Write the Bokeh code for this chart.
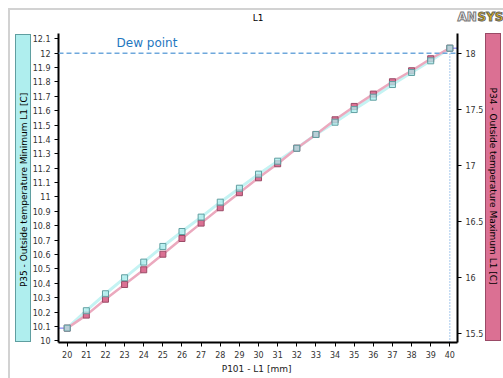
import math
from bokeh.plotting import figure
from bokeh.models import (Range1d, LinearAxis, FixedTicker, CustomJSTickFormatter,
                          Label, Span, ColumnDataSource, InlineStyleSheet)
from bokeh.embed import file_html
from bokeh.resources import INLINE

# ---- data ----
l1_mm = [20, 21, 22, 23, 24, 25, 26, 27, 28, 29, 30, 31, 32, 33, 34, 35, 36, 37, 38, 39, 40]
temp_min = [10.088, 10.209, 10.327, 10.438, 10.547, 10.656, 10.760, 10.860, 10.964, 11.061,
            11.159, 11.249, 11.339, 11.435, 11.520, 11.608, 11.694, 11.782, 11.866, 11.947, 12.035]
temp_max = [15.550, 15.666, 15.808, 15.939, 16.070, 16.209, 16.349, 16.486, 16.623, 16.757,
            16.890, 17.015, 17.154, 17.276, 17.407, 17.526, 17.636, 17.746, 17.844, 17.951, 18.045]
dew_point = 12.0
x_ticks = list(range(20, 41))
left_ticks = [10.0, 10.1, 10.2, 10.3, 10.4, 10.5, 10.6, 10.7, 10.8, 10.9, 11.0,
              11.1, 11.2, 11.3, 11.4, 11.5, 11.6, 11.7, 11.8, 11.9, 12.0, 12.1]
right_ticks = [15.5, 16.0, 16.5, 17.0, 17.5, 18.0]
title_text = "L1"
x_label = "P101 - L1  [mm]"
left_label = "P35 - Outside temperature Minimum L1  [C]"
right_label = "P34 - Outside temperature Maximum L1  [C]"
dew_text = "Dew point"

FONT = "DejaVu Sans"
CYAN = "#afeeee"
CYAN_EDGE = "#5f9ea0"
PINK = "#db7093"
PINK_EDGE = "#9a4a66"

p = figure(width=503, height=378, output_backend="svg", toolbar_location=None,
           x_range=Range1d(19.545, 40.40), y_range=Range1d(9.988, 12.137),
           min_border_left=58, min_border_right=46, min_border_top=33, min_border_bottom=36,
           x_axis_type=None, y_axis_type=None)
p.outline_line_color = None
p.xgrid.visible = False
p.ygrid.visible = False
p.background_fill_color = "white"
p.border_fill_color = None
p.extra_y_ranges = {"max": Range1d(15.422, 18.176)}

# decorative frame and the two coloured label panels (page chrome)
css = (
    ":host { isolation: isolate; background: white; }"
    ":host::before { content: ''; position: absolute; left: 0; top: 0; width: 100%; height: 100%;"
    " z-index: -1; pointer-events: none; background:"
    f" linear-gradient({CYAN},{CYAN}) 16px 35px / 14px 306px no-repeat,"
    f" linear-gradient({CYAN_EDGE},{CYAN_EDGE}) 15px 34px / 16px 308px no-repeat,"
    f" linear-gradient({PINK},{PINK}) 486px 34px / 14px 306px no-repeat,"
    f" linear-gradient({PINK_EDGE},{PINK_EDGE}) 485px 33px / 16px 308px no-repeat; }}"
    ":host::after { content: ''; position: absolute; left: 8px; top: 8px; right: 0; bottom: 0;"
    " border-left: 2px solid #d2d2d2; border-top: 2px solid #d2d2d2;"
    " pointer-events: none; z-index: 10; }"
)
p.stylesheets = [InlineStyleSheet(css=css)]

fmt = CustomJSTickFormatter(code="return String(Math.round(tick*10)/10);")

def style_axis(ax):
    ax.axis_line_color = "black"
    ax.axis_line_width = 2
    ax.major_tick_line_color = "black"
    ax.major_tick_out = 4
    ax.major_tick_in = 0
    ax.minor_tick_line_color = None
    ax.major_label_text_font = FONT
    ax.major_label_text_font_size = "8px"
    ax.major_label_text_color = "#333333"
    ax.major_label_standoff = 4
    ax.formatter = fmt

xax = LinearAxis(ticker=FixedTicker(ticks=x_ticks), axis_label=x_label)
style_axis(xax)
xax.axis_label_text_font = FONT
xax.axis_label_text_font_size = "9px"
xax.axis_label_text_font_style = "normal"
xax.axis_label_text_color = "#222222"
xax.axis_label_standoff = 3
p.add_layout(xax, "below")
lax = LinearAxis(ticker=FixedTicker(ticks=left_ticks))
style_axis(lax)
p.add_layout(lax, "left")
rax = LinearAxis(ticker=FixedTicker(ticks=right_ticks), y_range_name="max")
style_axis(rax)
p.add_layout(rax, "right")

# dew point reference lines
p.add_layout(Span(location=dew_point, dimension="width", line_color="#6fa8dc",
                  line_width=1.5, line_dash="5 3"))
p.segment(x0=[l1_mm[-1]], y0=[9.988], x1=[l1_mm[-1]], y1=[dew_point],
          line_color="#4a90d9", line_width=1, line_dash="1 2")
p.segment(x0=[19.545], y0=[temp_min[0]], x1=[l1_mm[0]], y1=[temp_min[0]],
          line_color="#6a6af0", line_width=1)
p.segment(x0=[l1_mm[-1]], y0=[temp_min[-1]], x1=[40.40], y1=[temp_min[-1]],
          line_color="#6a6af0", line_width=1)

src = ColumnDataSource(dict(x=l1_mm, tmin=temp_min, tmax=temp_max))
p.line("x", "tmin", source=src, line_color="#c4f3f3", line_width=3)
p.line("x", "tmax", source=src, line_color="#eba9be", line_width=2.5, y_range_name="max")
p.scatter("x", "tmax", source=src, marker="square", size=6, fill_color=PINK,
          line_color=PINK_EDGE, line_width=1, y_range_name="max")
p.scatter("x", "tmin", source=src, marker="square", size=6, fill_color=CYAN,
          fill_alpha=0.75, line_color=CYAN_EDGE, line_width=1)

p.add_layout(Label(x=22.58, y=12.074, text=dew_text, text_font=FONT,
                   text_font_size="12px", text_color="#1f77c0", text_baseline="middle"))

# rotated axis labels (side panels, canvas units)
p.add_layout(Label(x=23, y=188, x_units="canvas", y_units="canvas", text=left_label,
                   angle=math.pi / 2, text_align="center", text_baseline="middle",
                   text_font=FONT, text_font_size="9px", text_color="black"), "left")
p.add_layout(Label(x=492.5, y=187, x_units="canvas", y_units="canvas", text=right_label,
                   angle=-math.pi / 2, text_align="center", text_baseline="middle",
                   text_font=FONT, text_font_size="9px", text_color="black"), "right")

# title and logo
p.add_layout(Label(x=257.5, y=17, x_units="canvas", y_units="canvas", text=title_text,
                   text_align="center", text_baseline="middle",
                   text_font=FONT, text_font_size="9px", text_color="black"), "left")
p.add_layout(Label(x=457, y=16, x_units="canvas", y_units="canvas", text="AN",
                   text_align="left", text_baseline="middle", text_font=FONT,
                   text_font_size="12px", text_font_style="bold", text_color="white",
                   text_outline_color="#777777"), "above")
p.add_layout(Label(x=477, y=16, x_units="canvas", y_units="canvas", text="SYS",
                   text_align="left", text_baseline="middle", text_font=FONT,
                   text_font_size="12px", text_font_style="bold", text_color="#e8b400",
                   text_outline_color="#666666"), "above")

open("out.html", "w").write(file_html(p, INLINE))
